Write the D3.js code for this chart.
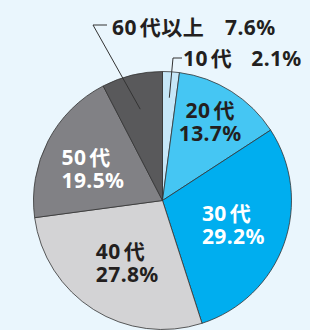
<!DOCTYPE html>
<html>
<head>
<meta charset="utf-8">
<script src="https://cdn.jsdelivr.net/npm/d3@7"></script>
<style>
  html, body { margin: 0; padding: 0; background: #eaf6fd; }
  text { font-family: "Noto Sans", "Noto Sans CJK JP", sans-serif; font-weight: bold; font-size: 21px; letter-spacing: 0.4px; }
</style>
</head>
<body>
<div class="chart"></div>
<script>
/* Age breakdown pie */

var ageNums = ["10", "20", "30", "40", "50", "60"];
var ageSuffix = ["代", "代", "代", "代", "代", "代以上"];
var shares = [2.1, 13.7, 29.2, 27.8, 19.5, 7.6];
var pctLabels = ["2.1%", "13.7%", "29.2%", "27.8%", "19.5%", "7.6%"];

var colors = ["#c6e7f8", "#45c6f3", "#00aeef", "#d3d3d5", "#818185", "#59595b"];
var textColors = ["#231f20", "#231f20", "#fff", "#231f20", "#fff", "#231f20"];

drawPie();

function drawPie() {

  var width = 310,
      height = 330,
      radius = 129,
      cx = 162.5,
      cy = 200.5;

  var svg = d3.select(".chart")
      .append("svg")
      .attr("width", width)
      .attr("height", height);

  var g = svg.append("g")
      .attr("transform", "translate(" + cx + "," + cy + ")");

  var pie = d3.pie().sort(null).value(function (d) { return d; });
  var arcs = pie(shares);

  var arc = d3.arc().innerRadius(0).outerRadius(radius);
  var labelArc = d3.arc().innerRadius(80).outerRadius(80);

  g.selectAll("path")
    .data(arcs)
    .enter()
    .append("path")
    .attr("d", arc)
    .style("fill", function (d, i) { return colors[i]; })
    .style("stroke", "#333")
    .style("stroke-width", 0.8);

  // age text with the little gap before 代
  function ageText(sel, i) {
    sel.append("tspan").text(ageNums[i]);
    sel.append("tspan").attr("dx", 3).text(ageSuffix[i]);
  }

  // labels inside the big slices: [dx, dy, anchor] relative to centroid
  var inside = {
    1: [5, -15, "middle"],
    2: [-36, -6, "start"],
    3: [-24, -9, "start"],
    4: [-30, 1, "start"]
  };

  Object.keys(inside).forEach(function (k) {
    var i = +k;
    var c = labelArc.centroid(arcs[i]);
    var o = inside[k];
    var t1 = g.append("text")
      .attr("x", c[0] + o[0])
      .attr("y", c[1] + o[1])
      .attr("text-anchor", o[2])
      .style("fill", textColors[i]);
    ageText(t1, i);
    g.append("text")
      .attr("x", c[0] + o[0])
      .attr("y", c[1] + o[1] + 23)
      .attr("text-anchor", o[2])
      .style("fill", textColors[i])
      .text(pctLabels[i]);
  });

  // callouts for the thin slices
  var callouts = [
    { i: 0, r: 103, elbow: [173, 58], end: 182, tx: 183, ty: 66, gap: 19 },
    { i: 5, r: 94, elbow: [93, 25], end: 107, tx: 112, ty: 35, gap: 21 }
  ];

  callouts.forEach(function (c) {
    var a = (arcs[c.i].startAngle + arcs[c.i].endAngle) / 2;
    var p = [cx + c.r * Math.sin(a), cy - c.r * Math.cos(a)];
    svg.append("polyline")
      .attr("points", [p, c.elbow, [c.end, c.elbow[1]]].map(function (q) { return q.join(","); }).join(" "))
      .style("fill", "none")
      .style("stroke", "#333")
      .style("stroke-width", 1);
    var t = svg.append("text")
      .attr("x", c.tx)
      .attr("y", c.ty)
      .style("fill", textColors[c.i]);
    ageText(t, c.i);
    t.append("tspan").attr("dx", c.gap).text(pctLabels[c.i]);
  });

}
</script>
</body>
</html>
